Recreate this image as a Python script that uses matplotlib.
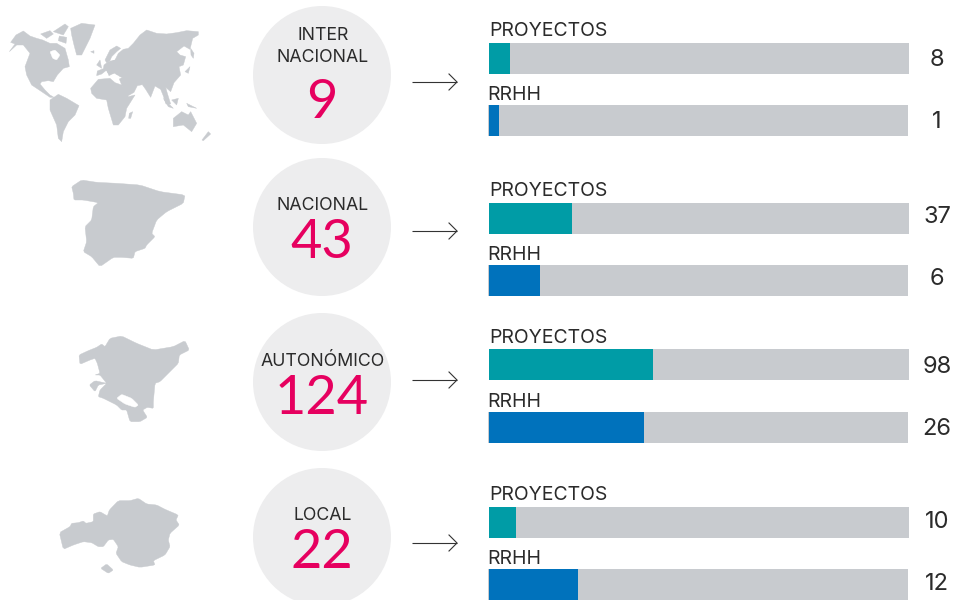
import matplotlib
matplotlib.use("Agg")
import matplotlib.pyplot as plt
from matplotlib.patches import Polygon, Circle

# ---- data ----
scopes = ["INTER\nNACIONAL", "NACIONAL", "AUTONÓMICO", "LOCAL"]
totals = [9, 43, 124, 22]
proyectos = [8, 37, 98, 10]
rrhh = [1, 6, 26, 12]
# filled share of each track, in percent
proyectos_fill = [5.0, 19.8, 39.0, 6.4]
rrhh_fill = [2.4, 12.2, 36.9, 21.2]
series_names = ["PROYECTOS", "RRHH"]

# ---- layout (pixels) ----
W, H = 958, 600
cy = [75, 227, 382, 537]
title_y = [[36, 58], [205], [361], [516]]
total_y = [102, 243, 399, 553]
arrow_y = [82, 231, 380, 543]
p_top = [43, 203, 349, 507]
r_top = [105, 265, 412, 569]
p_lab = [31, 191, 338, 495]
r_lab = [95, 255, 402, 559]
val_p = [60, 217, 367, 522]
val_r = [122, 279, 429, 584]
BAR_H = 31
TEAL, BLUE, TRACK, RED, DISC, INK = "#009CA6", "#0072BC", "#C8CBCF", "#E6005F", "#EDEDEE", "#2B2B2B"
MAP = "#C8CBCF"
LABEL_FONT = ["Inter", "DejaVu Sans"]
NUM_FONT = ["Lato", "DejaVu Sans"]

plt.rcParams["font.family"] = LABEL_FONT
fig = plt.figure(figsize=(W / 100, H / 100), dpi=100)
ax = fig.add_axes([0, 0, 1, 1])
ax.set_xlim(0, W)
ax.set_ylim(H, 0)
ax.axis("off")


def rounded(pts, rounds=1):
    for _ in range(rounds):
        out = []
        for k in range(len(pts)):
            a, b = pts[k], pts[(k + 1) % len(pts)]
            out.append((0.88 * a[0] + 0.12 * b[0], 0.88 * a[1] + 0.12 * b[1]))
            out.append((0.12 * a[0] + 0.88 * b[0], 0.12 * a[1] + 0.88 * b[1]))
        pts = out
    return pts


def shape(flat, ox, oy, color=MAP, z=2, rounds=1):
    pts = [(ox + flat[i] / 3, oy + flat[i + 1] / 3) for i in range(0, len(flat), 2)]
    ax.add_patch(Polygon(rounded(pts, rounds), closed=True, fc=color, ec=color, lw=0.3, zorder=z))


# world map (decorative outline)
world = [
    [28,125,45,102,32,97,48,75,70,63,90,78,110,85,128,90,150,100,170,100,195,115,205,150,208,170,190,175,172,195,160,215,145,212,125,215,120,222,135,240,150,255,162,262,150,262,125,245,110,235,95,225,80,195,75,170,90,130,70,105,50,105],
    [212,55,245,40,285,45,270,85,245,135,230,135,222,105,215,75],
    [122,72,150,62,160,72,140,85],
    [160,65,195,42,205,50,190,75],
    [178,78,200,82,198,100,175,92],
    [150,270,175,253,200,265,237,287,225,315,205,335,190,365,185,395,175,385,170,345,150,300],
    [272,235,295,208,330,205,345,218,365,225,385,260,405,255,380,295,375,320,355,345,340,345,325,295,320,270,290,265,275,250],
    [388,310,398,305,392,325,386,325],
    [290,197,292,183,310,176,312,165,325,155,345,150,355,130,370,118,385,115,400,100,420,75,440,60,470,70,500,72,530,68,560,62,595,65,595,75,578,85,570,118,552,108,530,125,540,135,557,140,550,165,537,170,542,195,522,218,512,245,497,232,502,250,512,282,498,282,490,258,482,238,465,228,452,262,437,238,427,224,412,227,402,247,380,260,365,225,358,207,378,197,347,192,352,182,337,192,327,197,320,180,305,192],
    [345,150,400,110,430,160,400,215,360,200,345,190,325,190,315,175,325,158],
    [315,150,330,120,350,108,362,115,350,125,335,140,330,152,320,158],
    [520,325,545,305,565,315,572,305,590,340,575,365,550,345,520,350],
    [572,115,582,130,580,145,573,135],
    [555,185,570,170,565,190],
    [490,265,520,295,505,290],
    [515,270,535,265,530,285],
    [560,280,590,295,565,290],
    [625,365,632,372,610,392,606,390],
    [290,165,300,150,305,175],
    [272,125,282,122,282,130],
]
for p in world:
    shape(p, 0, 10, rounds=0)
shape([150,125,165,120,180,135,170,150,158,145], 0, 10, color="white", z=3)   # Hudson Bay

spain = [65,50,95,30,140,37,200,40,270,45,330,65,405,75,400,100,350,125,320,150,305,190,315,200,290,225,285,235,255,245,250,265,215,262,190,262,150,290,125,260,100,245,110,215,105,170,125,150,130,110,145,98,100,90,72,90,70,70]
shape(spain, 50, 170)

basque = [57,75,85,62,110,52,125,42,135,50,150,25,185,18,230,40,280,60,340,50,375,32,388,60,358,75,355,100,330,125,300,155,285,160,280,215,280,235,262,232,248,240,262,262,240,275,210,275,200,240,185,240,170,225,130,205,115,200,120,180,140,160,120,135,105,135,120,130,112,100,105,85,90,90,60,103]
shape(basque, 60, 330)
shape([170,205,185,193,215,205,235,225,225,232,195,222], 60, 330, color="white", z=3)
shape([88,165,105,152,140,160,115,165,105,185], 60, 330)

bizkaia = [28,128,60,110,65,100,85,98,100,93,108,100,130,95,130,72,150,65,172,78,178,60,205,32,240,32,265,25,290,42,320,45,345,58,385,75,378,90,388,105,360,130,355,150,360,170,345,195,310,212,315,225,270,232,240,225,215,215,198,190,205,170,190,148,175,150,160,170,145,170,125,158,100,155,70,165,40,178]
shape(bizkaia, 50, 490)
shape([152,235,170,222,190,240,175,250], 50, 490)

for i, name in enumerate(scopes):
    ax.add_patch(Circle((322, cy[i]), 69, fc=DISC, ec="none", zorder=1))
    for line, y in zip(name.split("\n"), title_y[i]):
        ax.text(323, y, line, ha="center", va="center", fontsize=12.8, color=INK)
    ax.text(322, total_y[i], str(totals[i]), ha="center", va="center", fontsize=39,
            color=RED, family=NUM_FONT)

    ax.plot([412, 457], [arrow_y[i]] * 2, color="#333333", lw=0.8, solid_capstyle="butt")
    ax.plot([449, 457, 449], [arrow_y[i] - 8, arrow_y[i], arrow_y[i] + 8], color="#333333", lw=0.8)

    ax.barh(p_top[i] + BAR_H / 2, 420, height=BAR_H, left=489, color=TRACK, zorder=2)
    ax.barh(p_top[i] + BAR_H / 2, 420 * proyectos_fill[i] / 100, height=BAR_H, left=489, color=TEAL, zorder=3)
    ax.barh(r_top[i] + BAR_H / 2, 420, height=BAR_H, left=488, color=TRACK, zorder=2)
    ax.barh(r_top[i] + BAR_H / 2, 420 * rrhh_fill[i] / 100, height=BAR_H, left=489, color=BLUE, zorder=3)

    ax.text(489, p_lab[i], series_names[0], ha="left", va="center", fontsize=14, color=INK)
    ax.text(487, r_lab[i], series_names[1], ha="left", va="center", fontsize=14, color=INK)
    ax.text(937, val_p[i], str(proyectos[i]), ha="center", va="center", fontsize=17, color=INK)
    ax.text(937, val_r[i], str(rrhh[i]), ha="center", va="center", fontsize=17, color=INK)

fig.savefig("out.png", dpi=100)
